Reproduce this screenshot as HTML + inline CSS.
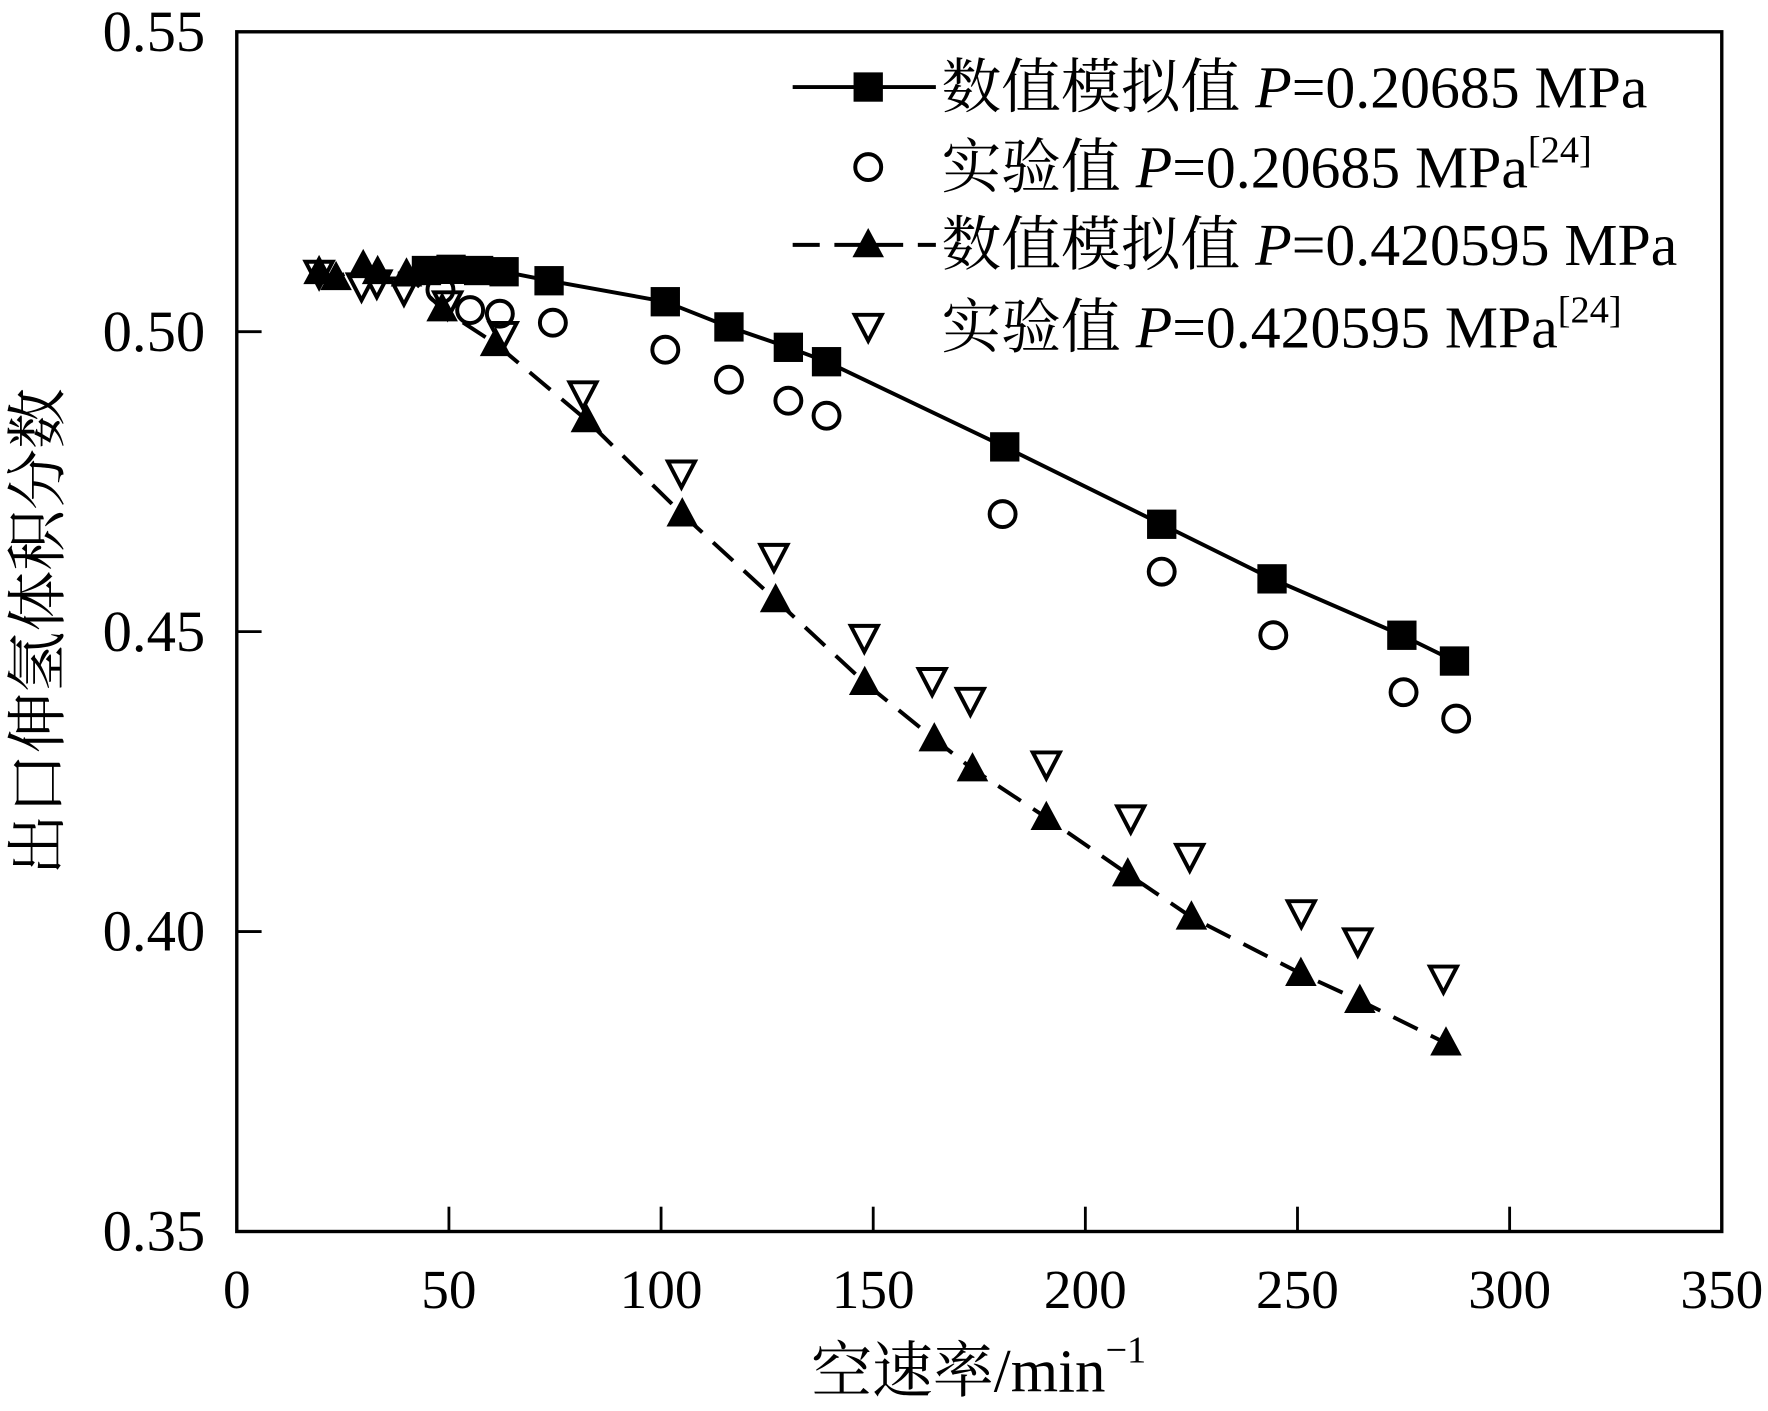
<!DOCTYPE html>
<html><head><meta charset="utf-8"><style>
html,body{margin:0;padding:0;background:#fff}
svg{display:block}
text{font-family:"Liberation Serif","Noto Serif CJK SC",serif;fill:#000}
</style></head><body>
<svg id="chart" width="1768" height="1411" viewBox="0 0 1568 1251" xmlns="http://www.w3.org/2000/svg">
<g id="plot"></g>
</svg>
<script>
const xTicks=[0,50,100,150,200,250,300,350];
const yTicks=[0.35,0.40,0.45,0.50,0.55];
const yTickLabels=["0.35","0.40","0.45","0.50","0.55"];
const simLowX=[44.7,50.5,57,63,73.6,101,116,130,139,181,218,244,274.6,287];
const simLowY=[0.5102,0.5104,0.5102,0.5100,0.5085,0.505,0.5008,0.4974,0.495,0.4808,0.4679,0.4588,0.4494,0.4451];
const expLowX=[48,55,62,74.5,101,116,130,139,180.5,218,244.3,275,287.4];
const expLowY=[0.507,0.5036,0.503,0.5015,0.497,0.492,0.4885,0.486,0.4696,0.46,0.4494,0.4399,0.4355];
const simHighX=[19.4,23.4,29.8,33.2,40,48.4,61,82.4,105,127,148,164.4,173.4,190.8,210,225,250.8,264.7,285];
const simHighY=[0.510,0.509,0.511,0.510,0.5096,0.5038,0.498,0.4853,0.4696,0.4553,0.4415,0.4321,0.4271,0.419,0.4096,0.4024,0.393,0.3885,0.3814];
const expHighX=[19.4,29.4,33,39.4,49.7,62.8,81.6,104.8,126.6,147.9,163.9,172.9,190.8,210.7,224.6,250.9,264.2,284.4];
const expHighY=[0.5096,0.5075,0.508,0.5068,0.5045,0.4994,0.4895,0.4763,0.4624,0.4489,0.4417,0.4384,0.4278,0.4188,0.4124,0.403,0.3983,0.3921];

const L=210,R=1527,T=28,B=1092;
const X=v=>L+(v-0)/350*(R-L);
const Y=v=>B-(v-0.35)/0.2*(B-T);
const NS="http://www.w3.org/2000/svg";
const g=document.getElementById('plot');
function mk(tag,attrs,parent){const e=document.createElementNS(NS,tag);for(const k in attrs)e.setAttribute(k,attrs[k]);(parent||g).appendChild(e);return e;}

let e=mk('rect',{x:L,y:T,width:R-L,height:B-T,fill:'none',stroke:'#000','stroke-width':3});



xTicks.forEach((t,i)=>{
  const x=X(t);
  if(i>0&&i<xTicks.length-1){let l=mk('line',{x1:x,y1:B,x2:x,y2:B-22,stroke:'#000','stroke-width':2.5});
  
  }
  let tx=mk('text',{x:x,y:1160,'text-anchor':'middle','font-size':49});tx.textContent=t;
  
  
});
yTicks.forEach((t,i)=>{
  const y=Y(t);
  if(i>0&&i<yTicks.length-1){let l=mk('line',{x1:L,y1:y,x2:L+22,y2:y,stroke:'#000','stroke-width':2.5});
  
  }
  let tx=mk('text',{x:182,y:y+17,'text-anchor':'end','font-size':52});tx.textContent=yTickLabels[i];
  
  
});

let xt=mk('text',{x:868,y:1234,'text-anchor':'middle','font-size':54});
xt.innerHTML='空速率/min<tspan dy="-26" font-size="34">−1</tspan>';


let yt=mk('text',{x:0,y:0,'text-anchor':'middle','font-size':54,transform:'translate(52,560) rotate(-90)'});
yt.textContent='出口伸氢体积分数';



function line(xs,ys,dash,name){
  const pts=xs.map((v,i)=>X(v)+','+Y(ys[i])).join(' ');
  let p=mk('polyline',{points:pts,fill:'none',stroke:'#000','stroke-width':3.5,'stroke-dasharray':dash||'none'});
  
  
}
line(simLowX,simLowY,null,'sim-line-low-pressure');
line(simHighX,simHighY,'24,13','sim-line-high-pressure');

function square(x,y,parent){return mk('rect',{x:x-13,y:y-13,width:26,height:26,fill:'#000'},parent);}
function circle(x,y,parent){return mk('circle',{cx:x,cy:y,r:11.5,fill:'none',stroke:'#000','stroke-width':3.5},parent);}
function tup(x,y,parent){return mk('polygon',{points:`${x},${y-15} ${x-14},${y+11} ${x+14},${y+11}`,fill:'#000'},parent);}
function tdn(x,y,parent){return mk('polygon',{points:`${x-12},${y-11} ${x+12},${y-11} ${x},${y+12}`,fill:'#fff',stroke:'#000','stroke-width':3.5,'stroke-linejoin':'miter'},parent);}

expHighX.forEach((v,i)=>{let m=tdn(X(v),Y(expHighY[i]));
  
  });
simHighX.forEach((v,i)=>{let m=tup(X(v),Y(simHighY[i]));
  
  });
expLowX.forEach((v,i)=>{let m=circle(X(v),Y(expLowY[i]));
  
  });
simLowX.forEach((v,i)=>{let m=square(X(v),Y(simLowY[i]));
  
  });

// legend
const lg=mk('g',{});


const ly=[77,148,217,290];
mk('line',{x1:703,y1:ly[0],x2:830,y2:ly[0],stroke:'#000','stroke-width':3.5},lg);
square(770,ly[0],lg);
circle(770,ly[1],lg);
mk('line',{x1:703,y1:ly[2],x2:830,y2:ly[2],stroke:'#000','stroke-width':3.5,'stroke-dasharray':'24,13'},lg);
tup(770,ly[2],lg);
tdn(770,ly[3],lg);
const labels=[
 '数值模拟值 <tspan font-style="italic">P</tspan>=0.20685 MPa',
 '实验值 <tspan font-style="italic">P</tspan>=0.20685 MPa<tspan dy="-22" font-size="34">[24]</tspan>',
 '数值模拟值 <tspan font-style="italic">P</tspan>=0.420595 MPa',
 '实验值 <tspan font-style="italic">P</tspan>=0.420595 MPa<tspan dy="-22" font-size="34">[24]</tspan>'];
labels.forEach((s,i)=>{let t=mk('text',{x:835,y:ly[i]+18,'font-size':53},lg);t.innerHTML=s;
  
  });
</script>
</body></html>
